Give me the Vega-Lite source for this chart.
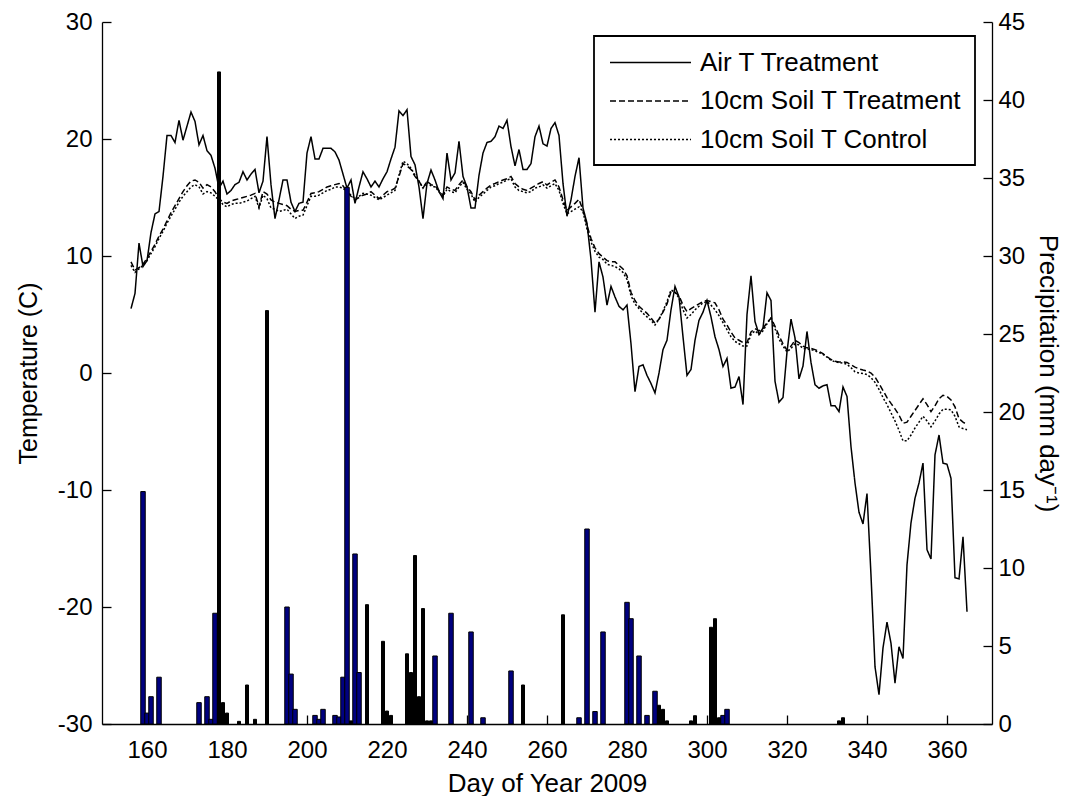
{
"$schema": "https://vega.github.io/schema/vega-lite/v6.json",
"width": 890, "height": 702,
"autosize": {"type": "none"},
"padding": {"left": 102, "top": 22, "right": 83, "bottom": 72},
"background": "white",
"config": {
 "view": {"stroke": null},
 "font": "Liberation Sans",
 "axis": {"grid": false, "domainColor": "black", "tickColor": "black", "labelColor": "black", "titleColor": "black", "labelFont": "Liberation Sans", "titleFont": "Liberation Sans", "labelFontSize": 24, "titleFontSize": 25, "titleFontWeight": "normal", "tickSize": -9, "domainWidth": 1.3, "tickWidth": 1.3, "labelFlush": false, "labelOverlap": false},
 "legend": {"strokeWidth": 1.8}
},
"datasets": {
"temps": [
{"day":156,"air":5.5,"soil_trt":9.5,"soil_ctl":9.2},
{"day":157,"air":6.8,"soil_trt":8.8,"soil_ctl":8.6},
{"day":158,"air":11.1,"soil_trt":9.0,"soil_ctl":8.9},
{"day":159,"air":9.1,"soil_trt":9.3,"soil_ctl":9.2},
{"day":160,"air":9.6,"soil_trt":9.8,"soil_ctl":9.6},
{"day":161,"air":12.0,"soil_trt":10.4,"soil_ctl":10.2},
{"day":162,"air":13.6,"soil_trt":11.0,"soil_ctl":10.8},
{"day":163,"air":13.8,"soil_trt":11.7,"soil_ctl":11.5},
{"day":164,"air":16.8,"soil_trt":12.3,"soil_ctl":12.1},
{"day":165,"air":20.3,"soil_trt":13.0,"soil_ctl":12.8},
{"day":166,"air":20.3,"soil_trt":13.7,"soil_ctl":13.4},
{"day":167,"air":19.7,"soil_trt":14.3,"soil_ctl":14.0},
{"day":168,"air":21.6,"soil_trt":14.9,"soil_ctl":14.6},
{"day":169,"air":19.9,"soil_trt":15.5,"soil_ctl":15.1},
{"day":170,"air":21.1,"soil_trt":16.0,"soil_ctl":15.5},
{"day":171,"air":22.3,"soil_trt":16.4,"soil_ctl":15.9},
{"day":172,"air":21.5,"soil_trt":16.5,"soil_ctl":16.1},
{"day":173,"air":19.5,"soil_trt":16.3,"soil_ctl":15.9},
{"day":174,"air":20.3,"soil_trt":15.8,"soil_ctl":15.3},
{"day":175,"air":19.0,"soil_trt":16.1,"soil_ctl":15.5},
{"day":176,"air":18.6,"soil_trt":15.9,"soil_ctl":15.4},
{"day":177,"air":17.5,"soil_trt":15.5,"soil_ctl":15.1},
{"day":178,"air":15.8,"soil_trt":14.9,"soil_ctl":14.8},
{"day":179,"air":16.4,"soil_trt":14.6,"soil_ctl":14.4},
{"day":180,"air":15.3,"soil_trt":14.5,"soil_ctl":14.2},
{"day":181,"air":15.6,"soil_trt":14.7,"soil_ctl":14.4},
{"day":182,"air":16.1,"soil_trt":14.8,"soil_ctl":14.5},
{"day":183,"air":16.3,"soil_trt":14.9,"soil_ctl":14.5},
{"day":184,"air":17.2,"soil_trt":15.0,"soil_ctl":14.6},
{"day":185,"air":16.5,"soil_trt":15.1,"soil_ctl":14.7},
{"day":186,"air":17.0,"soil_trt":15.2,"soil_ctl":14.9},
{"day":187,"air":17.4,"soil_trt":15.35,"soil_ctl":15.1},
{"day":188,"air":15.4,"soil_trt":14.2,"soil_ctl":14.1},
{"day":189,"air":16.4,"soil_trt":15.5,"soil_ctl":15.2},
{"day":190,"air":20.2,"soil_trt":15.3,"soil_ctl":14.9},
{"day":191,"air":16.1,"soil_trt":14.8,"soil_ctl":14.1},
{"day":192,"air":13.2,"soil_trt":14.6,"soil_ctl":14.0},
{"day":193,"air":14.8,"soil_trt":14.5,"soil_ctl":13.8},
{"day":194,"air":16.5,"soil_trt":14.4,"soil_ctl":13.9},
{"day":195,"air":16.5,"soil_trt":14.3,"soil_ctl":14.0},
{"day":196,"air":14.6,"soil_trt":14.0,"soil_ctl":13.6},
{"day":197,"air":13.8,"soil_trt":13.8,"soil_ctl":13.2},
{"day":198,"air":14.5,"soil_trt":13.9,"soil_ctl":13.4},
{"day":199,"air":14.6,"soil_trt":13.9,"soil_ctl":13.5},
{"day":200,"air":18.8,"soil_trt":14.6,"soil_ctl":14.3},
{"day":201,"air":20.2,"soil_trt":15.35,"soil_ctl":15.1},
{"day":202,"air":18.3,"soil_trt":15.4,"soil_ctl":15.1},
{"day":203,"air":18.3,"soil_trt":15.5,"soil_ctl":15.2},
{"day":204,"air":19.2,"soil_trt":15.7,"soil_ctl":15.4},
{"day":205,"air":19.2,"soil_trt":15.9,"soil_ctl":15.6},
{"day":206,"air":19.2,"soil_trt":16.0,"soil_ctl":15.7},
{"day":207,"air":18.9,"soil_trt":16.1,"soil_ctl":15.9},
{"day":208,"air":18.2,"soil_trt":16.2,"soil_ctl":15.9},
{"day":209,"air":17.0,"soil_trt":16.0,"soil_ctl":15.8},
{"day":210,"air":15.8,"soil_trt":15.5,"soil_ctl":15.5},
{"day":211,"air":16.5,"soil_trt":15.1,"soil_ctl":15.2},
{"day":212,"air":14.5,"soil_trt":14.8,"soil_ctl":14.9},
{"day":213,"air":15.9,"soil_trt":15.0,"soil_ctl":15.1},
{"day":214,"air":17.2,"soil_trt":15.2,"soil_ctl":15.35},
{"day":215,"air":16.6,"soil_trt":15.3,"soil_ctl":15.3},
{"day":216,"air":15.9,"soil_trt":15.5,"soil_ctl":15.2},
{"day":217,"air":16.4,"soil_trt":15.2,"soil_ctl":15.0},
{"day":218,"air":15.9,"soil_trt":14.9,"soil_ctl":14.8},
{"day":219,"air":16.6,"soil_trt":15.2,"soil_ctl":15.0},
{"day":220,"air":17.2,"soil_trt":15.5,"soil_ctl":15.2},
{"day":221,"air":18.3,"soil_trt":15.6,"soil_ctl":15.4},
{"day":222,"air":19.3,"soil_trt":15.8,"soil_ctl":15.6},
{"day":223,"air":22.4,"soil_trt":16.8,"soil_ctl":16.9},
{"day":224,"air":22.0,"soil_trt":17.9,"soil_ctl":18.1},
{"day":225,"air":22.5,"soil_trt":17.7,"soil_ctl":17.9},
{"day":226,"air":18.5,"soil_trt":17.4,"soil_ctl":17.5},
{"day":227,"air":17.8,"soil_trt":16.8,"soil_ctl":16.9},
{"day":228,"air":15.9,"soil_trt":16.4,"soil_ctl":16.4},
{"day":229,"air":13.2,"soil_trt":15.8,"soil_ctl":15.8},
{"day":230,"air":16.2,"soil_trt":16.4,"soil_ctl":16.3},
{"day":231,"air":17.35,"soil_trt":16.1,"soil_ctl":16.0},
{"day":232,"air":16.5,"soil_trt":16.0,"soil_ctl":15.9},
{"day":233,"air":15.5,"soil_trt":15.6,"soil_ctl":15.5},
{"day":234,"air":14.9,"soil_trt":15.2,"soil_ctl":15.1},
{"day":235,"air":18.8,"soil_trt":15.9,"soil_ctl":15.7},
{"day":236,"air":16.5,"soil_trt":15.7,"soil_ctl":15.5},
{"day":237,"air":17.1,"soil_trt":15.6,"soil_ctl":15.4},
{"day":238,"air":19.8,"soil_trt":16.1,"soil_ctl":15.9},
{"day":239,"air":16.8,"soil_trt":16.5,"soil_ctl":16.3},
{"day":240,"air":15.9,"soil_trt":15.9,"soil_ctl":15.7},
{"day":241,"air":14.1,"soil_trt":15.5,"soil_ctl":15.3},
{"day":242,"air":14.1,"soil_trt":14.8,"soil_ctl":14.6},
{"day":243,"air":16.9,"soil_trt":15.2,"soil_ctl":15.0},
{"day":244,"air":18.8,"soil_trt":15.5,"soil_ctl":15.3},
{"day":245,"air":19.7,"soil_trt":15.8,"soil_ctl":15.6},
{"day":246,"air":19.8,"soil_trt":16.07,"soil_ctl":15.9},
{"day":247,"air":20.2,"soil_trt":16.2,"soil_ctl":16.0},
{"day":248,"air":21.1,"soil_trt":16.35,"soil_ctl":16.2},
{"day":249,"air":20.9,"soil_trt":16.5,"soil_ctl":16.3},
{"day":250,"air":21.6,"soil_trt":16.6,"soil_ctl":16.5},
{"day":251,"air":19.35,"soil_trt":16.8,"soil_ctl":16.6},
{"day":252,"air":17.7,"soil_trt":16.2,"soil_ctl":15.9},
{"day":253,"air":19.1,"soil_trt":15.9,"soil_ctl":15.6},
{"day":254,"air":17.4,"soil_trt":15.7,"soil_ctl":15.5},
{"day":255,"air":17.4,"soil_trt":15.6,"soil_ctl":15.4},
{"day":256,"air":17.9,"soil_trt":15.8,"soil_ctl":15.5},
{"day":257,"air":20.2,"soil_trt":16.0,"soil_ctl":15.8},
{"day":258,"air":21.1,"soil_trt":16.2,"soil_ctl":15.9},
{"day":259,"air":19.6,"soil_trt":16.35,"soil_ctl":16.07},
{"day":260,"air":19.4,"soil_trt":16.07,"soil_ctl":15.8},
{"day":261,"air":20.9,"soil_trt":16.3,"soil_ctl":16.0},
{"day":262,"air":21.4,"soil_trt":16.5,"soil_ctl":16.2},
{"day":263,"air":20.3,"soil_trt":15.9,"soil_ctl":15.6},
{"day":264,"air":16.2,"soil_trt":14.8,"soil_ctl":14.5},
{"day":265,"air":13.4,"soil_trt":13.9,"soil_ctl":13.6},
{"day":266,"air":14.8,"soil_trt":14.2,"soil_ctl":13.8},
{"day":267,"air":16.8,"soil_trt":14.5,"soil_ctl":14.0},
{"day":268,"air":18.4,"soil_trt":14.85,"soil_ctl":14.2},
{"day":269,"air":14.1,"soil_trt":13.9,"soil_ctl":13.8},
{"day":270,"air":12.8,"soil_trt":12.6,"soil_ctl":12.3},
{"day":271,"air":9.7,"soil_trt":11.5,"soil_ctl":11.2},
{"day":272,"air":5.2,"soil_trt":10.7,"soil_ctl":10.4},
{"day":273,"air":9.5,"soil_trt":10.2,"soil_ctl":9.9},
{"day":274,"air":8.2,"soil_trt":9.9,"soil_ctl":9.7},
{"day":275,"air":5.8,"soil_trt":9.6,"soil_ctl":9.3},
{"day":276,"air":7.4,"soil_trt":9.5,"soil_ctl":9.2},
{"day":277,"air":6.5,"soil_trt":9.5,"soil_ctl":9.1},
{"day":278,"air":5.7,"soil_trt":9.2,"soil_ctl":8.9},
{"day":279,"air":5.4,"soil_trt":8.9,"soil_ctl":8.6},
{"day":280,"air":5.8,"soil_trt":8.3,"soil_ctl":8.0},
{"day":281,"air":2.5,"soil_trt":6.9,"soil_ctl":6.6},
{"day":282,"air":-1.6,"soil_trt":6.2,"soil_ctl":5.9},
{"day":283,"air":0.55,"soil_trt":5.7,"soil_ctl":5.5},
{"day":284,"air":0.7,"soil_trt":5.4,"soil_ctl":5.1},
{"day":285,"air":-0.2,"soil_trt":5.1,"soil_ctl":4.8},
{"day":286,"air":-0.9,"soil_trt":4.7,"soil_ctl":4.5},
{"day":287,"air":-1.7,"soil_trt":4.25,"soil_ctl":4.1},
{"day":288,"air":0.0,"soil_trt":4.6,"soil_ctl":4.6},
{"day":289,"air":2.0,"soil_trt":5.2,"soil_ctl":5.3},
{"day":290,"air":2.8,"soil_trt":5.9,"soil_ctl":6.1},
{"day":291,"air":5.4,"soil_trt":6.95,"soil_ctl":7.1},
{"day":292,"air":7.4,"soil_trt":6.9,"soil_ctl":6.9},
{"day":293,"air":6.5,"soil_trt":6.6,"soil_ctl":6.4},
{"day":294,"air":3.1,"soil_trt":5.8,"soil_ctl":5.4},
{"day":295,"air":-0.2,"soil_trt":5.25,"soil_ctl":4.7},
{"day":296,"air":0.3,"soil_trt":5.5,"soil_ctl":5.0},
{"day":297,"air":2.8,"soil_trt":5.7,"soil_ctl":5.4},
{"day":298,"air":4.5,"soil_trt":5.9,"soil_ctl":5.7},
{"day":299,"air":5.2,"soil_trt":6.1,"soil_ctl":6.0},
{"day":300,"air":6.2,"soil_trt":6.2,"soil_ctl":6.1},
{"day":301,"air":4.8,"soil_trt":6.1,"soil_ctl":5.8},
{"day":302,"air":3.1,"soil_trt":6.0,"soil_ctl":5.4},
{"day":303,"air":2.0,"soil_trt":5.4,"soil_ctl":4.9},
{"day":304,"air":0.55,"soil_trt":4.6,"soil_ctl":4.3},
{"day":305,"air":1.25,"soil_trt":4.1,"soil_ctl":3.7},
{"day":306,"air":-1.3,"soil_trt":3.5,"soil_ctl":3.1},
{"day":307,"air":-1.2,"soil_trt":3.0,"soil_ctl":2.7},
{"day":308,"air":-0.3,"soil_trt":2.8,"soil_ctl":2.5},
{"day":309,"air":-2.7,"soil_trt":2.6,"soil_ctl":2.3},
{"day":310,"air":5.0,"soil_trt":2.6,"soil_ctl":2.3},
{"day":311,"air":8.3,"soil_trt":3.5,"soil_ctl":3.3},
{"day":312,"air":4.4,"soil_trt":3.8,"soil_ctl":3.6},
{"day":313,"air":3.3,"soil_trt":3.6,"soil_ctl":3.3},
{"day":314,"air":3.85,"soil_trt":3.8,"soil_ctl":3.6},
{"day":315,"air":6.85,"soil_trt":4.3,"soil_ctl":4.2},
{"day":316,"air":6.2,"soil_trt":4.7,"soil_ctl":4.7},
{"day":317,"air":-0.7,"soil_trt":4.0,"soil_ctl":3.8},
{"day":318,"air":-2.5,"soil_trt":3.2,"soil_ctl":2.9},
{"day":319,"air":-2.1,"soil_trt":2.5,"soil_ctl":2.3},
{"day":320,"air":1.8,"soil_trt":1.95,"soil_ctl":1.8},
{"day":321,"air":4.6,"soil_trt":2.3,"soil_ctl":2.1},
{"day":322,"air":3.0,"soil_trt":2.8,"soil_ctl":2.5},
{"day":323,"air":-0.5,"soil_trt":2.6,"soil_ctl":2.4},
{"day":324,"air":0.6,"soil_trt":2.3,"soil_ctl":2.1},
{"day":325,"air":3.55,"soil_trt":2.15,"soil_ctl":2.05},
{"day":326,"air":0.9,"soil_trt":2.1,"soil_ctl":2.0},
{"day":327,"air":-1.0,"soil_trt":2.0,"soil_ctl":1.9},
{"day":328,"air":-1.3,"soil_trt":1.85,"soil_ctl":1.75},
{"day":329,"air":-1.1,"soil_trt":1.65,"soil_ctl":1.6},
{"day":330,"air":-1.0,"soil_trt":1.4,"soil_ctl":1.35},
{"day":331,"air":-2.8,"soil_trt":1.15,"soil_ctl":1.1},
{"day":332,"air":-2.8,"soil_trt":1.0,"soil_ctl":0.95},
{"day":333,"air":-3.3,"soil_trt":0.95,"soil_ctl":0.9},
{"day":334,"air":-1.2,"soil_trt":0.95,"soil_ctl":0.85},
{"day":335,"air":-2.0,"soil_trt":0.9,"soil_ctl":0.75},
{"day":336,"air":-6.3,"soil_trt":0.7,"soil_ctl":0.45},
{"day":337,"air":-9.4,"soil_trt":0.5,"soil_ctl":0.1},
{"day":338,"air":-11.9,"soil_trt":0.35,"soil_ctl":0.0},
{"day":339,"air":-12.9,"soil_trt":0.25,"soil_ctl":-0.05},
{"day":340,"air":-10.3,"soil_trt":0.17,"soil_ctl":-0.13},
{"day":341,"air":-17.3,"soil_trt":0.0,"soil_ctl":-0.4},
{"day":342,"air":-25.1,"soil_trt":-0.35,"soil_ctl":-0.8},
{"day":343,"air":-27.5,"soil_trt":-0.9,"soil_ctl":-1.4},
{"day":344,"air":-23.5,"soil_trt":-1.5,"soil_ctl":-2.1},
{"day":345,"air":-21.3,"soil_trt":-2.1,"soil_ctl":-2.7},
{"day":346,"air":-23.1,"soil_trt":-2.6,"soil_ctl":-3.4},
{"day":347,"air":-26.5,"soil_trt":-3.07,"soil_ctl":-4.1},
{"day":348,"air":-23.4,"soil_trt":-3.6,"soil_ctl":-4.9},
{"day":349,"air":-24.4,"soil_trt":-4.3,"soil_ctl":-5.8},
{"day":350,"air":-16.4,"soil_trt":-4.2,"soil_ctl":-5.8},
{"day":351,"air":-12.8,"soil_trt":-3.7,"soil_ctl":-5.3},
{"day":352,"air":-10.7,"soil_trt":-3.2,"soil_ctl":-4.7},
{"day":353,"air":-9.4,"soil_trt":-2.7,"soil_ctl":-4.2},
{"day":354,"air":-7.7,"soil_trt":-2.2,"soil_ctl":-3.7},
{"day":355,"air":-15.1,"soil_trt":-2.7,"soil_ctl":-4.1},
{"day":356,"air":-15.9,"soil_trt":-3.3,"soil_ctl":-4.6},
{"day":357,"air":-7.0,"soil_trt":-2.8,"soil_ctl":-4.1},
{"day":358,"air":-5.3,"soil_trt":-2.2,"soil_ctl":-3.5},
{"day":359,"air":-7.7,"soil_trt":-1.9,"soil_ctl":-3.1},
{"day":360,"air":-7.8,"soil_trt":-2.0,"soil_ctl":-3.1},
{"day":361,"air":-9.0,"soil_trt":-2.3,"soil_ctl":-3.15},
{"day":362,"air":-17.5,"soil_trt":-2.9,"soil_ctl":-3.7},
{"day":363,"air":-17.6,"soil_trt":-3.9,"soil_ctl":-4.6},
{"day":364,"air":-14.0,"soil_trt":-4.2,"soil_ctl":-4.75},
{"day":365,"air":-20.4,"soil_trt":-4.4,"soil_ctl":-4.85}
],
"precip": [
{"day":159,"series":"B","mm":14.9},{"day":160,"series":"B","mm":0.7},{"day":161,"series":"B","mm":1.75},{"day":163,"series":"B","mm":3.0},
{"day":173,"series":"B","mm":1.37},{"day":175,"series":"B","mm":1.75},{"day":176,"series":"B","mm":0.3},{"day":177,"series":"B","mm":7.1},
{"day":195,"series":"B","mm":7.5},{"day":196,"series":"B","mm":3.2},{"day":197,"series":"B","mm":0.94},{"day":202,"series":"B","mm":0.55},
{"day":203,"series":"B","mm":0.3},{"day":204,"series":"B","mm":0.94},{"day":207,"series":"B","mm":0.55},{"day":208,"series":"B","mm":0.45},
{"day":209,"series":"B","mm":3.0},{"day":210,"series":"B","mm":34.4},{"day":212,"series":"B","mm":10.9},{"day":213,"series":"B","mm":3.3},
{"day":232,"series":"B","mm":4.36},{"day":236,"series":"B","mm":7.1},{"day":241,"series":"B","mm":5.9},{"day":244,"series":"B","mm":0.4},
{"day":251,"series":"B","mm":3.4},{"day":268,"series":"B","mm":0.4},{"day":270,"series":"B","mm":12.5},{"day":272,"series":"B","mm":0.8},
{"day":274,"series":"B","mm":5.9},{"day":280,"series":"B","mm":7.8},{"day":281,"series":"B","mm":6.75},{"day":283,"series":"B","mm":4.36},
{"day":285,"series":"B","mm":0.55},{"day":287,"series":"B","mm":2.1},{"day":304,"series":"B","mm":0.55},{"day":305,"series":"B","mm":0.94},
{"day":178,"series":"A","mm":41.8},{"day":179,"series":"A","mm":1.37},{"day":180,"series":"A","mm":0.7},{"day":183,"series":"A","mm":0.17},
{"day":185,"series":"A","mm":2.5},{"day":187,"series":"A","mm":0.3},{"day":190,"series":"A","mm":26.5},{"day":211,"series":"A","mm":0.2},
{"day":215,"series":"A","mm":7.65},{"day":219,"series":"A","mm":5.3},{"day":220,"series":"A","mm":0.83},{"day":221,"series":"A","mm":0.55},
{"day":225,"series":"A","mm":4.5},{"day":226,"series":"A","mm":3.3},{"day":227,"series":"A","mm":10.8},{"day":228,"series":"A","mm":1.75},
{"day":229,"series":"A","mm":7.4},{"day":230,"series":"A","mm":0.2},{"day":231,"series":"A","mm":0.2},{"day":254,"series":"A","mm":2.5},
{"day":264,"series":"A","mm":7.0},{"day":288,"series":"A","mm":1.2},{"day":289,"series":"A","mm":0.94},{"day":290,"series":"A","mm":0.2},
{"day":296,"series":"A","mm":0.2},{"day":297,"series":"A","mm":0.53},{"day":301,"series":"A","mm":6.2},{"day":302,"series":"A","mm":6.75},
{"day":303,"series":"A","mm":0.4},{"day":333,"series":"A","mm":0.2},{"day":334,"series":"A","mm":0.4}
]
},
"layer": [
{
 "data": {"name": "temps"},
 "transform": [{"fold": ["air", "soil_trt", "soil_ctl"], "as": ["series", "temp"]}],
 "mark": {"type": "line", "color": "black", "strokeWidth": 1.5},
 "encoding": {
  "x": {"field": "day", "type": "quantitative", "scale": {"domain": [150, 370], "nice": false, "zero": false},
        "axis": {"title": "Day of Year 2009", "values": [160, 180, 200, 220, 240, 260, 280, 300, 320, 340, 360], "labelPadding": 23, "titlePadding": 8, "titleFontSize": 26}},
  "y": {"field": "temp", "type": "quantitative", "scale": {"domain": [-30, 30], "nice": false, "zero": false},
        "axis": {"orient": "left", "title": "Temperature (C)", "values": [-30, -20, -10, 0, 10, 20, 30], "labelExpr": "datum.value + ''", "labelPadding": 19, "titlePadding": 16}},
  "strokeDash": {"field": "series", "type": "nominal",
        "scale": {"domain": ["air", "soil_trt", "soil_ctl"], "range": [[1, 0], [6, 3], [2, 2]]},
        "legend": {"orient": "none", "legendX": 492, "legendY": 14, "title": null, "symbolType": "M-3,0H3", "symbolSize": 729, "symbolOffset": 30, "symbolStrokeWidth": 1.5, "symbolStrokeColor": "black", "symbolFillColor": "transparent", "labelFontSize": 26, "labelColor": "black", "labelFont": "Liberation Sans", "labelLimit": 600, "strokeColor": "black", "fillColor": "white", "padding": 12, "rowPadding": 10.5, "labelOffset": 35,
                   "labelExpr": "datum.label == 'air' ? 'Air T Treatment' : datum.label == 'soil_trt' ? '10cm Soil T Treatment' : '10cm Soil T Control'"}}
 }
},
{
 "data": {"name": "precip"},
 "mark": {"type": "bar", "stroke": "black", "strokeWidth": 1},
 "encoding": {
  "x": {"field": "day", "type": "quantitative"},
  "y": {"field": "mm", "type": "quantitative", "stack": null, "scale": {"domain": [0, 45], "nice": false, "zero": true},
        "axis": {"orient": "right", "title": "Precipitation (mm day⁻¹)", "values": [0, 5, 10, 15, 20, 25, 30, 35, 40, 45], "labelPadding": 15, "titlePadding": 10, "titleFontSize": 26}},
  "color": {"field": "series", "type": "nominal", "scale": {"domain": ["A", "B"], "range": ["black", "#000080"]}, "legend": null},
  "size": {"field": "series", "type": "ordinal", "scale": {"domain": ["A", "B"], "range": [3, 4.5]}, "legend": null}
 }
}
],
"resolve": {"scale": {"y": "independent"}}
}
